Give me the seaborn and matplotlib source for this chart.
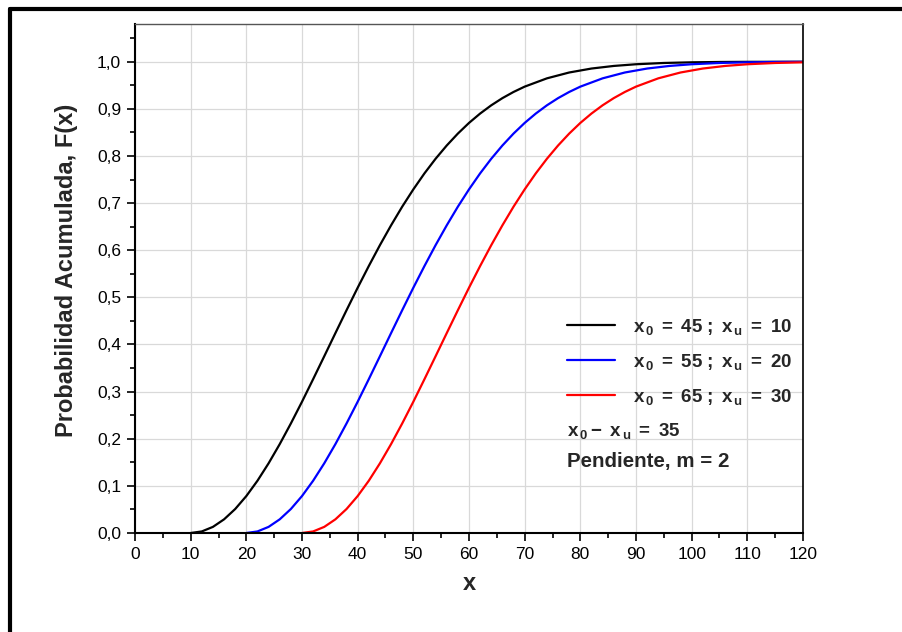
import numpy as np
import pandas as pd
import seaborn as sns
import matplotlib
matplotlib.use("Agg")
import matplotlib.pyplot as plt
from matplotlib.lines import Line2D
from matplotlib.ticker import MultipleLocator, FuncFormatter

# ---- data ----
offsets = [0, 2, 4, 6, 8, 10, 12, 14, 16, 18, 20, 22, 24, 26, 28, 30, 32, 34, 36, 38,
           40, 42, 44, 46, 48, 50, 52, 54, 56, 58, 60, 64, 68, 72, 76, 80, 85, 90, 95,
           100, 110]
F_values = [0.0, 0.0033, 0.0130, 0.0290, 0.0509, 0.0784, 0.1109, 0.1479, 0.1886, 0.2324,
            0.2785, 0.3264, 0.3751, 0.4241, 0.4727, 0.5204, 0.5665, 0.6108, 0.6528, 0.6924,
            0.7291, 0.7631, 0.7941, 0.8222, 0.8475, 0.8701, 0.8900, 0.9075, 0.9227, 0.9358,
            0.9471, 0.9647, 0.9771, 0.9855, 0.9910, 0.9946, 0.9973, 0.9987, 0.9994,
            0.9997, 0.9999]
x_u = [10, 20, 30]
x_0 = [45, 55, 65]
series_labels = [r"$\mathbf{x_{\,0}\ =\ %d\ ;\ x_{\,u}\ =\ %d}$" % (a, b) for a, b in zip(x_0, x_u)]
colors = ["#000000", "#0000ff", "#ff0000"]
x_ticks = list(range(0, 121, 10))
y_ticks = [0.0, 0.1, 0.2, 0.3, 0.4, 0.5, 0.6, 0.7, 0.8, 0.9, 1.0]

rows = []
for lab, xu in zip(series_labels, x_u):
    for d, f in zip(offsets, F_values):
        if xu + d <= 120:
            rows.append({"x": xu + d, "F": f, "serie": lab})
df = pd.DataFrame(rows)

sns.set_theme(style="white")
plt.rcParams["font.family"] = ["Liberation Sans", "DejaVu Sans"]
plt.rcParams["mathtext.fontset"] = "custom"
plt.rcParams["mathtext.bf"] = "Liberation Sans:bold"
plt.rcParams["mathtext.rm"] = "Liberation Sans"
plt.rcParams["mathtext.it"] = "Liberation Sans:italic"

fig = plt.figure(figsize=(9.03, 6.32), dpi=100)
ax = fig.add_axes([135 / 903, 1 - 533 / 632, 668 / 903, (533 - 24) / 632])

sns.lineplot(data=df, x="x", y="F", hue="serie", palette=colors, ax=ax,
             linewidth=1.6, estimator=None, sort=False, legend=True)

ax.set_xlim(0, 120)
ax.set_ylim(0, 1.08)
ax.set_xticks(x_ticks)
ax.set_yticks(y_ticks)
ax.xaxis.set_minor_locator(MultipleLocator(5))
ax.yaxis.set_minor_locator(MultipleLocator(0.05))
ax.yaxis.set_major_formatter(FuncFormatter(lambda v, p: f"{v:.1f}".replace(".", ",")))
ax.grid(True, which="major", color="#d9d9d9", linewidth=0.9)
ax.tick_params(which="major", direction="out", length=6, width=1.2, color="black",
               labelsize=12.5, bottom=True, left=True, labelcolor="black", pad=4)
ax.tick_params(which="minor", direction="out", length=3.5, width=1.2, color="black",
               bottom=True, left=True)
for s in ["left", "bottom"]:
    ax.spines[s].set_color("black")
    ax.spines[s].set_linewidth(1.5)
ax.spines["right"].set_color("black")
ax.spines["right"].set_linewidth(1.2)
ax.spines["top"].set_color("#555555")
ax.spines["top"].set_linewidth(1.0)

ax.set_xlabel("x", fontsize=17, fontweight="bold", labelpad=7)
ax.set_ylabel("Probabilidad Acumulada, F(x)", fontsize=17, fontweight="bold")
ax.yaxis.set_label_coords(-0.0853, 0.515)

leg = ax.legend(loc="upper left", bbox_to_anchor=(0.635, 0.44), frameon=False,
                fontsize=13.5, handlelength=2.6, handletextpad=0.95, labelspacing=0.8,
                borderaxespad=0.0)
for line in leg.get_lines():
    line.set_linewidth(1.6)

ax.text(0.646, 0.2, r"$\mathbf{x_{\,0} -\ x_{\,u}\ =\ 35}$", transform=ax.transAxes,
        fontsize=13.5, va="center", ha="left")
ax.text(0.646, 0.14, "Pendiente, m = 2", transform=ax.transAxes, fontsize=14.8,
        fontweight="bold", va="center", ha="left")

# outer frame (top and left edges)
fig.add_artist(Line2D([10 / 903, 1.0], [1 - 9 / 632, 1 - 9 / 632], transform=fig.transFigure,
                      color="black", linewidth=3))
fig.add_artist(Line2D([10 / 903, 10 / 903], [0.0, 1 - 9 / 632], transform=fig.transFigure,
                      color="black", linewidth=3))

fig.savefig("out.png", dpi=100)
